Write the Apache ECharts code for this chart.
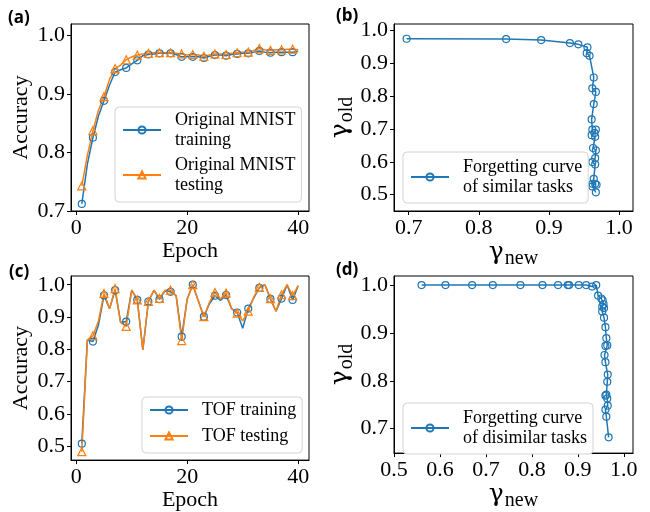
<!DOCTYPE html>
<html>
<head>
<meta charset="utf-8">
<script src="https://cdn.jsdelivr.net/npm/echarts@6/dist/echarts.min.js"></script>
<style>
  html, body { margin: 0; padding: 0; background: #fff; }
  #chart { width: 650px; height: 512px; }
</style>
</head>
<body>
<div id="chart"></div>
<script>
// ---- data ----
const epochs = [1, 2, 3, 4, 5, 6, 7, 8, 9, 10, 11, 12, 13, 14, 15, 16, 17, 18, 19, 20,
                21, 22, 23, 24, 25, 26, 27, 28, 29, 30, 31, 32, 33, 34, 35, 36, 37, 38, 39, 40];

const mnistTrain = [0.712, 0.780, 0.825, 0.862, 0.888, 0.915, 0.937, 0.941, 0.944, 0.951,
                    0.957, 0.965, 0.967, 0.968, 0.969, 0.969, 0.969, 0.967, 0.963, 0.963,
                    0.963, 0.963, 0.961, 0.964, 0.966, 0.966, 0.965, 0.967, 0.968, 0.969,
                    0.969, 0.971, 0.973, 0.971, 0.970, 0.971, 0.971, 0.971, 0.971, 0.972];
const mnistTest  = [0.743, 0.795, 0.837, 0.872, 0.895, 0.925, 0.943, 0.949, 0.958, 0.963,
                    0.966, 0.968, 0.969, 0.970, 0.970, 0.970, 0.970, 0.969, 0.968, 0.966,
                    0.967, 0.966, 0.964, 0.966, 0.968, 0.968, 0.967, 0.969, 0.970, 0.971,
                    0.971, 0.974, 0.977, 0.975, 0.974, 0.975, 0.975, 0.976, 0.976, 0.975];

const tofTrain = [0.508, 0.829, 0.824, 0.875, 0.967, 0.926, 0.983, 0.883, 0.886, 0.983,
                  0.953, 0.798, 0.948, 0.983, 0.955, 0.981, 0.978, 0.966, 0.839, 0.956,
                  1.000, 0.950, 0.901, 0.941, 0.966, 0.951, 0.968, 0.926, 0.914, 0.865,
                  0.926, 0.959, 0.990, 1.000, 0.956, 0.918, 0.957, 1.000, 0.953, 0.997];
const tofTest  = [0.483, 0.829, 0.842, 0.888, 0.973, 0.926, 0.988, 0.883, 0.871, 0.983,
                  0.953, 0.798, 0.948, 0.983, 0.958, 0.983, 0.983, 0.966, 0.827, 0.956,
                  1.000, 0.950, 0.901, 0.945, 0.976, 0.956, 0.974, 0.926, 0.912, 0.888,
                  0.918, 0.962, 0.992, 1.000, 0.957, 0.918, 0.969, 1.000, 0.966, 0.997];

// forgetting curve, similar tasks
const similarNew = [0.697, 0.839, 0.889, 0.930, 0.942, 0.955, 0.954, 0.958, 0.964, 0.962,
                    0.967, 0.964, 0.961, 0.962, 0.967, 0.965, 0.961, 0.966, 0.963, 0.967,
                    0.966, 0.962, 0.966, 0.964, 0.962, 0.966, 0.968, 0.962, 0.967];
const similarOld = [0.975, 0.974, 0.971, 0.962, 0.958, 0.949, 0.931, 0.923, 0.857, 0.824,
                    0.813, 0.776, 0.729, 0.698, 0.698, 0.688, 0.681, 0.676, 0.642, 0.635,
                    0.611, 0.599, 0.592, 0.548, 0.533, 0.533, 0.530, 0.525, 0.507];

// forgetting curve, dissimilar tasks
const disimilarNew = [0.560, 0.612, 0.670, 0.715, 0.775, 0.823, 0.857, 0.878, 0.881, 0.902,
                      0.918, 0.931, 0.940, 0.944, 0.951, 0.954, 0.956, 0.953, 0.957, 0.953,
                      0.957, 0.960, 0.962, 0.964, 0.960, 0.958, 0.960, 0.965, 0.964, 0.962,
                      0.960, 0.964, 0.965, 0.960, 0.962, 0.967];
const disimilarOld = [1.000, 1.000, 1.000, 1.000, 1.000, 1.000, 1.000, 1.000, 1.000, 1.000,
                      1.000, 0.997, 1.000, 0.978, 0.972, 0.968, 0.960, 0.955, 0.952, 0.945,
                      0.932, 0.912, 0.889, 0.874, 0.873, 0.854, 0.839, 0.813, 0.798, 0.771,
                      0.769, 0.763, 0.748, 0.740, 0.725, 0.682];

// tick values
const epochTicks = [0, 20, 40];
const accTicksA  = [0.7, 0.8, 0.9, 1.0];
const accTicksC  = [0.5, 0.6, 0.7, 0.8, 0.9, 1.0];
const newTicksB  = [0.7, 0.8, 0.9, 1.0];
const oldTicksB  = [0.5, 0.6, 0.7, 0.8, 0.9, 1.0];
const newTicksD  = [0.5, 0.6, 0.7, 0.8, 0.9, 1.0];
const oldTicksD  = [0.7, 0.8, 0.9, 1.0];

// ---- style ----
const SERIF = 'Liberation Serif';
const BLUE = '#1f77b4';
const ORANGE = '#ff7f0e';
const fmt1 = v => v.toFixed(1);
const fmt0 = v => String(Math.round(v));

// gamma with a lowered subscript
const gammaRich = {
  g: { fontFamily: 'DejaVu Serif', fontSize: 25, color: '#000', verticalAlign: 'top', lineHeight: 28 },
  s: { fontFamily: SERIF, fontSize: 20, color: '#000', verticalAlign: 'top', lineHeight: 20, padding: [9, 0, 0, 1] }
};

function makeAxis(gridIndex, min, max, ticks, fmt, name, nameGap, rich) {
  const nameStyle = { fontFamily: SERIF, fontSize: 22, color: '#000' };
  if (rich) nameStyle.rich = rich;
  return {
    type: 'value', gridIndex, min, max,
    axisLine: { show: true, onZero: false, lineStyle: { color: '#000', width: 1 } },
    axisTick: { show: true, customValues: ticks, length: 4, lineStyle: { color: '#000', width: 1 } },
    axisLabel: { customValues: ticks, formatter: fmt, margin: 6, color: '#000', fontFamily: SERIF, fontSize: 22 },
    splitLine: { show: false },
    name, nameLocation: 'middle', nameGap, nameTextStyle: nameStyle
  };
}

// markers on every other epoch
function everyOther(ys) {
  return epochs.map((e, i) => i % 2 === 0 ? [e, ys[i]] : { value: [e, ys[i]], symbol: 'none' });
}
function pairs(xs, ys) { return xs.map((x, i) => [x, ys[i]]); }

function lineSeries(name, idx, data, color, symbol, size) {
  return {
    name, type: 'line', xAxisIndex: idx, yAxisIndex: idx, data,
    symbol, symbolSize: size, showAllSymbol: true,
    itemStyle: { color: 'rgba(255,255,255,0)', borderColor: color, borderWidth: 1.2 },
    lineStyle: { color, width: 1.5 },
    emphasis: { disabled: true }
  };
}

const legendBase = {
  orient: 'vertical', backgroundColor: '#fff', borderColor: '#d4d4d4', borderWidth: 1,
  borderRadius: 4, itemWidth: 38, itemHeight: 9, selectedMode: false,
  textStyle: { fontFamily: SERIF, fontSize: 18, lineHeight: 20, color: '#000', padding: [0, 0, 0, 9] }
};

const NAMES = {
  aTrain: 'Original MNIST\ntraining', aTest: 'Original MNIST\ntesting',
  cTrain: 'TOF training', cTest: 'TOF testing',
  b: 'Forgetting curve\nof similar tasks', d: 'Forgetting curve\nof disimilar tasks'
};

const panelTitle = (text, left, top) => ({
  text, left, top, padding: 0,
  textStyle: { fontFamily: 'Open Sans', fontWeight: 'bold', fontSize: 17, color: '#000' }
});

const option = {
  animation: false,
  backgroundColor: '#fff',
  title: [
    panelTitle('(a)', 8, 10),
    panelTitle('(b)', 336, 8),
    panelTitle('(c)', 9, 264),
    panelTitle('(d)', 336, 262)
  ],
  grid: [
    { left: 71, top: 24, width: 238, height: 187, show: true, borderColor: '#000', borderWidth: 1, backgroundColor: '#fff' },
    { left: 394, top: 24, width: 239, height: 187, show: true, borderColor: '#000', borderWidth: 1, backgroundColor: '#fff' },
    { left: 71, top: 276, width: 238, height: 186, show: true, borderColor: '#000', borderWidth: 1, backgroundColor: '#fff' },
    { left: 394, top: 276, width: 239, height: 186, show: true, borderColor: '#000', borderWidth: 1, backgroundColor: '#fff' }
  ],
  xAxis: [
    makeAxis(0, -0.95, 41.95, epochTicks, fmt0, 'Epoch', 26),
    makeAxis(1, 0.679, 1.02, newTicksB, fmt1, '{g|γ}{s|new}', 27, gammaRich),
    makeAxis(2, -0.95, 41.95, epochTicks, fmt0, 'Epoch', 26),
    makeAxis(3, 0.5, 1.02, newTicksD, fmt1, '{g|γ}{s|new}', 27, gammaRich)
  ],
  yAxis: [
    makeAxis(0, 0.7, 1.019, accTicksA, fmt1, 'Accuracy', 39),
    makeAxis(1, 0.45, 1.02, oldTicksB, fmt1, '{g|γ}{s|old}', 36, gammaRich),
    makeAxis(2, 0.457, 1.027, accTicksC, fmt1, 'Accuracy', 39),
    makeAxis(3, 0.649, 1.019, oldTicksD, fmt1, '{g|γ}{s|old}', 36, gammaRich)
  ],
  legend: [
    Object.assign({}, legendBase, { left: 115, top: 107, padding: [3, 6, 7, 7], itemGap: 5, data: [NAMES.aTrain, NAMES.aTest] }),
    Object.assign({}, legendBase, { left: 403, top: 152, padding: [5, 6, 6, 7], itemGap: 5, data: [NAMES.b] }),
    Object.assign({}, legendBase, { left: 142, top: 397, padding: [3, 6, 7, 7], itemGap: 6, data: [NAMES.cTrain, NAMES.cTest] }),
    Object.assign({}, legendBase, { left: 403, top: 403, padding: [5, 6, 6, 7], itemGap: 5, data: [NAMES.d] })
  ],
  series: [
    lineSeries(NAMES.aTrain, 0, everyOther(mnistTrain), BLUE, 'circle', 7),
    lineSeries(NAMES.aTest, 0, everyOther(mnistTest), ORANGE, 'triangle', 8),
    lineSeries(NAMES.b, 1, pairs(similarNew, similarOld), BLUE, 'circle', 7),
    lineSeries(NAMES.cTrain, 2, everyOther(tofTrain), BLUE, 'circle', 7),
    lineSeries(NAMES.cTest, 2, everyOther(tofTest), ORANGE, 'triangle', 8),
    lineSeries(NAMES.d, 3, pairs(disimilarNew, disimilarOld), BLUE, 'circle', 7)
  ]
};

const chart = echarts.init(document.getElementById('chart'), null, { renderer: 'canvas' });
chart.setOption(option);
</script>
</body>
</html>
